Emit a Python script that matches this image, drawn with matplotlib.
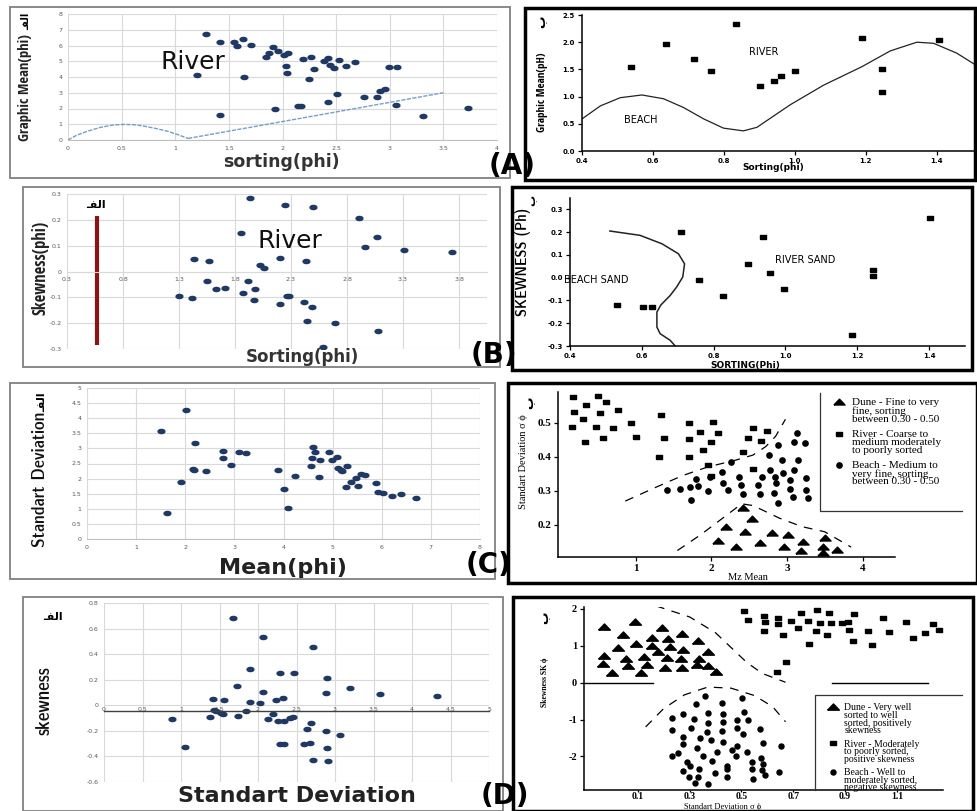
import os
import numpy as np
import matplotlib.pyplot as plt
from matplotlib import font_manager as fm
from matplotlib.lines import Line2D
from matplotlib.patches import Rectangle

W, H = 977, 811
SERIF = ['Liberation Serif', 'DejaVu Serif']
XL_BLUE = '#1f3864'
XL_GRID = '#d9d9d9'
XL_TXT = '#595959'

# Arabic letters written in visual order with presentation forms (no shaping in matplotlib)
ALEF_LAM_FEH = '\u0640\uFED4\uFEDF\uFE8D'
BEH = '\u0628'

# ---------------- (A) left : sorting vs graphic mean ----------------
a1_sort = [1.29, 1.20, 1.42, 1.42, 1.55, 1.58, 1.63, 1.64, 1.71, 1.85, 1.87, 1.91, 1.93, 1.96,
           2.01, 2.03, 2.04, 2.05, 2.14, 2.17, 2.19, 2.27, 2.29, 2.25, 2.39, 2.42, 2.44, 2.42,
           2.48, 2.51, 2.53, 2.59, 2.68, 2.76, 2.88, 2.91, 2.96, 2.99, 3.07, 3.06, 3.31, 3.73]
a1_mean = [6.71, 4.10, 6.22, 1.61, 6.22, 5.97, 6.39, 4.02, 6.05, 5.29, 5.54, 5.90, 1.95, 5.63,
           5.42, 4.72, 4.23, 5.54, 2.16, 2.16, 5.14, 5.29, 4.53, 3.89, 5.00, 5.21, 4.76, 2.43,
           4.55, 2.94, 5.08, 4.70, 4.95, 2.75, 2.75, 3.11, 3.24, 4.66, 4.66, 2.20, 1.52, 2.01]
a1_arc_x = [0, 0.08, 0.17, 0.3, 0.42, 0.52, 0.62, 0.7, 0.8, 0.92, 1.02, 1.12]
a1_arc_y = [0, 0.3, 0.53, 0.8, 0.95, 0.99, 0.97, 0.89, 0.76, 0.57, 0.35, 0.1]
a1_line_x = [1.12, 3.5]
a1_line_y = [0.1, 3.0]
a1_xticks = [0, 0.5, 1, 1.5, 2, 2.5, 3, 3.5, 4]
a1_xlabels = ['0', '0.5', '1', '1.5', '2', '2.5', '3', '3.5', '4']
a1_yticks = [0, 1, 2, 3, 4, 5, 6, 7, 8]
a1_ylabels = ['0', '1', '2', '3', '4', '5', '6', '7', '8']

# ---------------- (A) right : beach / river ----------------
a2_sort = [0.539, 0.638, 0.716, 0.764, 0.833, 0.903, 0.942, 0.962, 1.001, 1.189, 1.247, 1.247, 1.405]
a2_mean = [1.55, 1.97, 1.69, 1.47, 2.33, 1.19, 1.29, 1.37, 1.47, 2.07, 1.51, 1.09, 2.04]
a2_curve_x = [0.40, 0.452, 0.508, 0.569, 0.630, 0.686, 0.743, 0.799, 0.855, 0.893, 0.987, 1.081,
              1.189, 1.269, 1.344, 1.391, 1.456, 1.51]
a2_curve_y = [0.59, 0.83, 0.98, 1.03, 0.96, 0.80, 0.59, 0.42, 0.37, 0.435, 0.85, 1.21,
              1.55, 1.84, 2.0, 1.98, 1.80, 1.58]
a2_xticks = [0.4, 0.6, 0.8, 1.0, 1.2, 1.4]
a2_xlabels = ['0.4', '0.6', '0.8', '1.0', '1.2', '1.4']
a2_yticks = [0.0, 0.5, 1.0, 1.5, 2.0, 2.5]
a2_ylabels = ['0.0', '0.5', '1.0', '1.5', '2.0', '2.5']

# ---------------- (B) left : sorting vs skewness ----------------
b1_sort = [1.93, 2.25, 2.50, 2.91, 1.85, 3.07, 2.96, 3.31, 3.74, 1.43, 1.57, 2.20, 2.43, 2.02,
           2.06, 1.55, 1.92, 1.63, 1.71, 1.98, 1.87, 1.30, 1.42, 2.28, 2.26, 1.97, 2.20, 2.42,
           2.49, 2.44, 2.69, 3.08, 2.59]
b1_skew = [0.283, 0.256, 0.250, 0.209, 0.149, 0.135, 0.094, 0.085, 0.076, 0.047, 0.042, 0.054,
           0.041, 0.026, 0.013, -0.038, -0.038, -0.068, -0.065, -0.068, -0.082, -0.094, -0.101,
           -0.094, -0.096, -0.112, -0.124, -0.119, -0.138, -0.191, -0.199, -0.231, -0.291]
b1_bar_x = [0.57, 0.57]
b1_bar_y = [-0.285, 0.215]
b1_xticks = [0.3, 0.8, 1.3, 1.8, 2.3, 2.8, 3.3, 3.8]
b1_xlabels = ['0.3', '0.8', '1.3', '1.8', '2.3', '2.8', '3.3', '3.8']
b1_yticks = [-0.3, -0.2, -0.1, 0, 0.1, 0.2, 0.3]
b1_ylabels = ['-0.3', '-0.2', '-0.1', '0', '0.1', '0.2', '0.3']

# ---------------- (B) right : beach sand / river sand ----------------
b2_sort = [1.402, 0.709, 0.937, 0.895, 0.956, 1.244, 1.244, 0.758, 0.995, 0.827, 0.530, 0.604, 0.628, 1.185]
b2_skew = [0.262, 0.201, 0.179, 0.061, 0.020, 0.032, 0.009, -0.012, -0.048, -0.082, -0.122,
           -0.129, -0.129, -0.250]
b2_curve_x = [0.511, 0.595, 0.656, 0.702, 0.719, 0.714, 0.697, 0.679, 0.653, 0.642, 0.642, 0.651, 0.679, 0.693]
b2_curve_y = [0.205, 0.186, 0.149, 0.105, 0.061, 0.003, -0.041, -0.078, -0.12, -0.151, -0.217,
              -0.246, -0.275, -0.30]
b2_xticks = [0.4, 0.6, 0.8, 1.0, 1.2, 1.4]
b2_xlabels = ['0.4', '0.6', '0.8', '1.0', '1.2', '1.4']
b2_yticks = [-0.3, -0.2, -0.1, 0.0, 0.1, 0.2, 0.3]
b2_ylabels = ['-0.3', '-0.2', '-0.1', '0.0', '0.1', '0.2', '0.3']

# ---------------- (C) left : mean vs standard deviation ----------------
c1_mean = [1.51, 1.62, 2.01, 2.19, 1.92, 2.15, 2.17, 2.42, 2.76, 2.76, 2.94, 3.10, 3.23, 3.89,
           4.01, 4.10, 4.23, 4.55, 4.57, 4.60, 4.64, 4.72, 4.75, 4.93, 4.99, 5.08, 5.11, 5.18,
           5.20, 5.29, 5.27, 5.38, 5.48, 5.52, 5.57, 5.66, 5.89, 5.93, 6.03, 6.21, 6.40, 6.69]
c1_std = [3.57, 0.86, 4.28, 3.18, 1.89, 2.32, 2.27, 2.24, 2.90, 2.69, 2.46, 2.88, 2.86, 2.28,
          1.66, 1.04, 2.08, 2.43, 2.67, 3.05, 2.88, 2.04, 2.63, 2.87, 2.60, 2.70, 2.34, 2.30,
          2.25, 2.41, 1.72, 1.89, 2.01, 1.74, 2.16, 2.12, 1.84, 1.55, 1.52, 1.41, 1.50, 1.37]
c1_xticks = [0, 1, 2, 3, 4, 5, 6, 7, 8]
c1_xlabels = ['0', '1', '2', '3', '4', '5', '6', '7', '8']
c1_yticks = [0, 0.5, 1, 1.5, 2, 2.5, 3, 3.5, 4, 4.5, 5]
c1_ylabels = ['0', '0.5', '1', '1.5', '2', '2.5', '3', '3.5', '4', '4.5', '5']

# ---------------- (C) right : dune / river / beach ----------------
c2_river_x = [0.175, 0.153, 0.188, 0.343, 0.307, 0.330, 0.497, 0.528, 0.475, 0.603, 0.572, 0.696,
              0.762, 0.938, 1.004, 1.335, 1.379, 1.304, 1.706, 1.706, 1.706, 1.851, 1.895, 1.953,
              2.015, 1.997, 2.094, 1.997, 2.416, 2.491, 2.557, 2.659, 2.734, 2.557]
c2_river_y = [0.576, 0.486, 0.532, 0.552, 0.511, 0.442, 0.578, 0.527, 0.488, 0.562, 0.455, 0.485,
              0.537, 0.498, 0.457, 0.522, 0.454, 0.398, 0.498, 0.451, 0.398, 0.474, 0.420, 0.376,
              0.503, 0.443, 0.471, 0.344, 0.415, 0.454, 0.485, 0.447, 0.477, 0.363]
c2_beach_x = [3.131, 3.087, 3.241, 2.888, 2.756, 2.932, 3.140, 2.262, 2.138, 2.778, 2.954, 3.087,
              1.798, 1.984, 2.372, 2.668, 2.836, 3.042, 3.254, 1.829, 2.160, 2.394, 2.615, 2.857,
              1.410, 1.587, 1.711, 1.949, 2.226, 3.042, 3.254, 2.416, 2.637, 2.831, 1.733, 2.888,
              3.078, 3.285]
c2_beach_y = [0.469, 0.444, 0.439, 0.436, 0.405, 0.391, 0.391, 0.386, 0.356, 0.361, 0.351, 0.361,
              0.334, 0.342, 0.342, 0.340, 0.340, 0.332, 0.339, 0.314, 0.322, 0.317, 0.317, 0.322,
              0.303, 0.305, 0.310, 0.301, 0.303, 0.306, 0.303, 0.291, 0.290, 0.293, 0.273, 0.265,
              0.281, 0.278]
c2_dune_x = [2.412, 2.535, 2.191, 2.447, 2.800, 3.020, 3.219, 3.497, 2.094, 2.328, 2.637, 2.955,
             3.184, 3.483, 3.660, 3.483]
c2_dune_y = [0.249, 0.217, 0.195, 0.178, 0.175, 0.171, 0.151, 0.163, 0.153, 0.136, 0.146, 0.136,
             0.124, 0.136, 0.127, 0.117]
c2_upper_x = [0.86, 1.26, 1.62, 1.95, 2.32, 2.55, 2.72, 2.85, 2.98]
c2_upper_y = [0.27, 0.31, 0.345, 0.37, 0.39, 0.405, 0.43, 0.46, 0.51]
c2_lower_x = [1.55, 1.85, 2.15, 2.4, 2.55, 2.9, 3.2, 3.5, 3.85]
c2_lower_y = [0.125, 0.17, 0.22, 0.262, 0.257, 0.22, 0.195, 0.18, 0.135]
c2_xticks = [1, 2, 3, 4]
c2_xlabels = ['1', '2', '3', '4']
c2_yticks = [0.2, 0.3, 0.4, 0.5]
c2_ylabels = ['0.2', '0.3', '0.4', '0.5']
c2_labels = ['Dune - Fine to very\nfine, sorting\nbetween 0.30 - 0.50',
             'River - Coarse to\nmedium moderately\nto poorly sorted',
             'Beach - Medium to\nvery fine, sorting\nbetween 0.30 - 0.50']

# ---------------- (D) left : standard deviation vs skewness ----------------
d1_std = [1.67, 2.07, 2.71, 1.90, 2.29, 2.47, 2.90, 1.73, 3.19, 2.06, 2.88, 3.58, 4.32, 1.42,
          1.56, 2.33, 2.24, 1.89, 2.03, 1.43, 1.46, 1.84, 1.52, 1.54, 2.19, 1.38, 1.74, 0.88,
          2.13, 2.26, 2.34, 2.42, 2.45, 2.69, 2.64, 2.88, 3.06, 2.60, 2.67, 2.28, 2.34, 2.90,
          1.05, 2.72, 2.91]
d1_skew = [0.681, 0.535, 0.456, 0.282, 0.256, 0.250, 0.211, 0.154, 0.136, 0.107, 0.094, 0.089,
           0.076, 0.050, 0.044, 0.055, 0.042, 0.029, 0.016, -0.039, -0.044, -0.042, -0.063,
           -0.068, -0.068, -0.094, -0.083, -0.104, -0.110, -0.120, -0.125, -0.096, -0.094,
           -0.136, -0.188, -0.198, -0.229, -0.305, -0.297, -0.305, -0.305, -0.336, -0.326,
           -0.428, -0.438]
d1_axis_y = -0.045
d1_xticks = [0, 0.5, 1, 1.5, 2, 2.5, 3, 3.5, 4, 4.5, 5]
d1_xlabels = ['0', '0.5', '1', '1.5', '2', '2.5', '3', '3.5', '4', '4.5', '5']
d1_yticks = [-0.6, -0.4, -0.2, 0, 0.2, 0.4, 0.6, 0.8]
d1_ylabels = ['-0.6', '-0.4', '-0.2', '0', '0.2', '0.4', '0.6', '0.8']

# ---------------- (D) right : dune / river / beach ----------------
d2_dune_x = [-0.030, 0.089, 0.192, 0.272, 0.044, 0.331, 0.153, 0.215, 0.091, 0.153, 0.224, 0.022,
             0.273, 0.372, 0.179, -0.030, 0.054, 0.124, 0.211, 0.266, 0.337, -0.033, 0.063, 0.136,
             0.205, 0.269, 0.327, 0.372, -0.001, 0.112, 0.400]
d2_dune_y = [1.52, 1.65, 1.47, 1.31, 1.29, 1.14, 1.20, 1.17, 1.04, 0.99, 0.97, 0.93, 0.88, 0.84,
             0.84, 0.73, 0.64, 0.70, 0.68, 0.63, 0.64, 0.50, 0.45, 0.48, 0.41, 0.41, 0.48, 0.45,
             0.27, 0.25, 0.28]
d2_river_x = [0.510, 0.526, 0.587, 0.591, 0.587, 0.642, 0.642, 0.661, 0.691, 0.728, 0.719, 0.755,
              0.762, 0.790, 0.788, 0.803, 0.829, 0.839, 0.844, 0.887, 0.912, 0.916, 0.934, 0.929,
              0.990, 1.003, 1.048, 1.071, 1.134, 1.163, 1.208, 1.241, 1.264, 1.302, 0.672, 0.636]
d2_river_y = [1.94, 1.71, 1.81, 1.63, 1.41, 1.76, 1.59, 1.29, 1.68, 1.90, 1.49, 1.67, 1.04, 1.97,
              1.40, 1.61, 1.29, 1.88, 1.61, 1.61, 1.63, 1.43, 1.85, 1.13, 1.41, 1.02, 1.76, 1.36,
              1.63, 1.22, 1.34, 1.58, 1.43, 1.58, 0.57, 0.30]
d2_beach_x = [0.359, 0.501, 0.324, 0.423, 0.511, 0.273, 0.372, 0.430, 0.230, 0.317, 0.481, 0.526,
              0.372, 0.430, 0.230, 0.305, 0.481, 0.571, 0.368, 0.426, 0.505, 0.273, 0.340, 0.382,
              0.430, 0.584, 0.273, 0.327, 0.481, 0.653, 0.407, 0.256, 0.462, 0.520, 0.353, 0.230,
              0.479, 0.291, 0.385, 0.574, 0.539, 0.582, 0.443, 0.301, 0.337, 0.445, 0.539, 0.578,
              0.646, 0.273, 0.333, 0.299, 0.398, 0.445, 0.590, 0.545, 0.372, 0.321]
d2_beach_y = [-0.36, -0.42, -0.59, -0.54, -0.79, -0.84, -0.83, -0.86, -0.97, -0.98, -1.01, -1.01,
              -1.10, -1.08, -1.28, -1.24, -1.22, -1.26, -1.33, -1.30, -1.39, -1.46, -1.51, -1.55,
              -1.60, -1.64, -1.67, -1.76, -1.73, -1.71, -1.87, -1.91, -1.82, -1.87, -1.98, -2.00,
              -2.00, -2.14, -2.12, -2.05, -2.14, -2.20, -2.26, -2.26, -2.35, -2.35, -2.34, -2.36,
              -2.41, -2.39, -2.56, -2.57, -2.45, -2.55, -2.50, -2.62, -2.74, -2.73]
d2_upper_x = [0.17, 0.30, 0.40, 0.46, 0.52, 0.58, 0.67]
d2_upper_y = [2.08, 1.78, 1.35, 0.95, 0.55, 0.25, 0.01]
d2_lower_x = [0.13, 0.20, 0.28, 0.37, 0.46, 0.55, 0.62, 0.67]
d2_lower_y = [-1.2, -0.7, -0.33, -0.12, -0.15, -0.35, -0.65, -1.06]
d2_zero_left = [-0.11, 0.16]
d2_zero_right = [0.85, 1.22]
d2_xticks = [0.1, 0.3, 0.5, 0.7, 0.9, 1.1]
d2_xlabels = ['0.1', '0.3', '0.5', '0.7', '0.9', '1.1']
d2_yticks = [-2, -1, 0, 1, 2]
d2_ylabels = ['-2', '-1', '0', '1', '2']
d2_labels = ['Dune - Very well\nsorted to well\nsorted, positively\nskewness',
             'River - Moderately\nto poorly sorted,\npositive skewness',
             'Beach - Well to\nmoderately sorted,\nnegative skewness']

t = np.linspace(0, 2 * np.pi, 17)
ellipse = list(zip(np.cos(t), 0.6 * np.sin(t)))
rect = [(-1, -0.65), (1, -0.65), (1, 0.65), (-1, 0.65), (-1, -0.65)]
tri = [(-1, -0.45), (1, -0.45), (0, 0.6), (-1, -0.45)]


def narrow_font(bold):
    # look for any condensed / narrow face that is installed
    found = []
    for f in fm.fontManager.ttflist:
        fn = os.path.basename(f.fname).lower()
        if 'narrow' in fn or 'condensed' in fn or f.stretch in ('condensed', 'semi-condensed'):
            if 'extra' in fn or 'italic' in fn or 'oblique' in fn:
                continue
            isbold = 'bold' in fn or f.weight in ('bold', 700)
            found.append((isbold == bold, 'sans' in fn and 'serif' not in fn, f.fname))
    if found:
        found.sort(reverse=True)
        return fm.FontProperties(fname=found[0][2]), 1.0
    return fm.FontProperties(family='DejaVu Sans', stretch='condensed',
                             weight='bold' if bold else 'normal'), 0.82


NB, NB_K = narrow_font(True)
NR, NR_K = narrow_font(False)

fig = plt.figure(figsize=(W / 100, H / 100), dpi=100)


def px_axes(x0, y0, x1, y1):
    return fig.add_axes([x0 / W, 1 - y1 / H, (x1 - x0) / W, (y1 - y0) / H])


def ftext(x, y, s, **kw):
    kw.setdefault('ha', 'center')
    kw.setdefault('va', 'center')
    return fig.text(x / W, 1 - y / H, s, **kw)


def frame(x0, y0, x1, y1, color, lw):
    fig.add_artist(Rectangle((x0 / W, 1 - y1 / H), (x1 - x0) / W, (y1 - y0) / H,
                             transform=fig.transFigure, fill=False, ec=color, lw=lw, zorder=4))


def fline(xs, ys, **kw):
    fig.add_artist(Line2D([x / W for x in xs], [1 - y / H for y in ys],
                          transform=fig.transFigure, **kw))


def excel_axes(box, xlim, ylim, xt, xl, yt, yl):
    ax = px_axes(*box)
    ax.set_xlim(*xlim)
    ax.set_ylim(*ylim)
    ax.set_xticks(xt, xl)
    ax.set_yticks(yt, yl)
    ax.grid(True, color=XL_GRID, lw=0.8)
    ax.set_axisbelow(True)
    for s in ['top', 'right', 'left']:
        ax.spines[s].set_visible(False)
    ax.spines['bottom'].set_color('#bfbfbf')
    ax.tick_params(length=0, labelsize=4.5, colors=XL_TXT, pad=4)
    ax.patch.set_alpha(0)
    return ax


def classic_axes(box, xlim, ylim, xt, xl, yt, yl, size, family, weight):
    ax = px_axes(*box)
    ax.set_xlim(*xlim)
    ax.set_ylim(*ylim)
    ax.set_xticks(xt, xl)
    ax.set_yticks(yt, yl)
    for s in ['top', 'right']:
        ax.spines[s].set_visible(False)
    for s in ['left', 'bottom']:
        ax.spines[s].set_linewidth(1.1)
    ax.tick_params(direction='out', length=3, width=0.9, pad=2, labelsize=size)
    for lab in ax.get_xticklabels() + ax.get_yticklabels():
        lab.set_family(family)
        lab.set_weight(weight)
    ax.patch.set_alpha(0)
    return ax


def legend_top(ax, handles, labels, anchor, size, spacing, linesp):
    leg = ax.legend(handles, labels, loc='upper left', bbox_to_anchor=anchor, frameon=False,
                    borderpad=0, handlelength=1.0, handletextpad=0.7, labelspacing=spacing,
                    prop={'family': SERIF, 'size': size})
    for txt in leg.get_texts():
        txt.set_linespacing(linesp)
    # put each marker beside the first line of its label
    for col in leg._legend_handle_box.get_children():
        for item in col.get_children():
            item.align = 'top'
    return leg


# ===== A left =====
ax = excel_axes((68, 14, 497, 140), (0, 4), (0, 8), a1_xticks, a1_xlabels, a1_yticks, a1_ylabels)
ax.plot(a1_arc_x, a1_arc_y, color='#7b9cc4', lw=1, ls=(0, (3, 1)))
ax.plot(a1_line_x, a1_line_y, color='#7b9cc4', lw=1, ls=(0, (3, 1)))
ax.plot(a1_sort, a1_mean, ls='none', marker=ellipse, ms=5, color=XL_BLUE)
ax.text(0.86, 4.95, 'River', fontsize=18, va='center', color='#111111')
ftext(281, 162, 'sorting(phi)', fontsize=12.5, weight='bold', color='#333333')
ftext(25, 88, 'Graphic Mean(phi)', fontproperties=NB, fontsize=10.5 * NB_K, rotation=90, color='#222222')
ftext(26, 21, ALEF_LAM_FEH, fontsize=7, weight='bold', rotation=90)

# ===== A right =====
ax = classic_axes((582, 15, 974, 151), (0.4, 1.505), (0, 2.5), a2_xticks, a2_xlabels,
                  a2_yticks, a2_ylabels, 5, 'DejaVu Sans', 'bold')
ax.plot(a2_curve_x, a2_curve_y, color='#222222', lw=0.9)
ax.plot(a2_sort, a2_mean, ls='none', marker=rect, ms=4.5, color='black')
ax.text(0.87, 1.82, 'RIVER', fontsize=7, va='center')
ax.text(0.517, 0.57, 'BEACH', fontsize=7, va='center')
ftext(773, 167, 'Sorting(phi)', fontsize=6.5, weight='bold')
ftext(542, 92, 'Graphic Mean(pH)', fontproperties=NB, fontsize=8 * NB_K, rotation=90)
ftext(542, 22, BEH, fontsize=9, weight='bold', rotation=90)

# ===== B left =====
ax = excel_axes((67, 194, 487, 349), (0.3, 4.05), (-0.3, 0.3), b1_xticks, b1_xlabels, b1_yticks, b1_ylabels)
ax.spines['bottom'].set_position(('data', 0))
ax.spines['bottom'].set_color(XL_GRID)
ax.plot(b1_bar_x, b1_bar_y, color='#8b1414', lw=3, solid_capstyle='butt')
ax.plot(b1_sort, b1_skew, ls='none', marker=ellipse, ms=5, color=XL_BLUE)
ax.text(2.0, 0.12, 'River', fontsize=18, va='center', color='#111111')
ftext(302, 357, 'Sorting(phi)', fontsize=12, weight='bold', color='#333333')
ftext(40, 268, 'Skewness(phi)', fontproperties=NB, fontsize=12 * NB_K, rotation=90, color='#222222')
ftext(96, 205, ALEF_LAM_FEH, fontsize=8, weight='bold')

# ===== B right =====
ax = classic_axes((570, 198, 965, 346), (0.4, 1.5), (-0.3, 0.35), b2_xticks, b2_xlabels,
                  b2_yticks, b2_ylabels, 5, 'DejaVu Sans', 'bold')
ax.plot(b2_curve_x, b2_curve_y, color='#222222', lw=1.1)
ax.plot(b2_sort, b2_skew, ls='none', marker=rect, ms=4.5, color='black')
ax.text(0.97, 0.079, 'RIVER SAND', fontsize=7, va='center')
ax.text(0.383, -0.012, 'BEACH SAND', fontsize=7, va='center')
ftext(745, 365, 'SORTING(Phi)', fontsize=6.5, weight='bold')
ftext(523, 262, 'SKEWNESS (Ph)', fontproperties=NR, fontsize=11 * NR_K, rotation=90)
ftext(532, 200, BEH, fontsize=8, weight='bold', rotation=90)

# ===== C left =====
ax = excel_axes((87, 388, 480, 539), (0, 8), (0, 5), c1_xticks, c1_xlabels, c1_yticks, c1_ylabels)
ax.plot(c1_mean, c1_std, ls='none', marker=ellipse, ms=5, color=XL_BLUE)
ftext(283, 568, 'Mean(phi)', fontsize=16, weight='bold', color='#222222')
ftext(40, 479, 'Standart Deviation', fontproperties=NR, fontsize=13 * NR_K, rotation=90, color='#111111')
ftext(42, 402, ALEF_LAM_FEH, fontsize=8, weight='bold', rotation=90)

# ===== C right =====
ax = classic_axes((558, 392, 895, 557), (-0.03, 4.43), (0.106, 0.59), c2_xticks, c2_xlabels,
                  c2_yticks, c2_ylabels, 8, SERIF, 'bold')
ax.plot(c2_upper_x, c2_upper_y, color='black', lw=0.9, ls=(0, (7, 6)))
ax.plot(c2_lower_x, c2_lower_y, color='black', lw=0.9, ls=(0, (7, 6)))
h_dune, = ax.plot(c2_dune_x, c2_dune_y, ls='none', marker=tri, ms=8, color='black')
h_river, = ax.plot(c2_river_x, c2_river_y, ls='none', marker=rect, ms=4.8, color='black')
h_beach, = ax.plot(c2_beach_x, c2_beach_y, ls='none', marker='o', ms=3.8, color='black')
legend_top(ax, [h_dune, h_river, h_beach], c2_labels, (0.8, 0.995), 8, 0.55, 0.85)
fline([820, 820, 962], [393, 511, 511], color='#333333', lw=0.9)
ftext(748, 578, 'Mz Mean', fontsize=7.5, family=SERIF)
ftext(523, 462, 'Standart Deviation \u03c3 \u03d5', fontsize=7.5, rotation=90, family=SERIF)
ftext(530, 403, BEH, fontsize=9, weight='bold', rotation=90)

# ===== D left =====
ax = excel_axes((104, 603, 489, 782), (0, 5), (-0.6, 0.8), d1_xticks, d1_xlabels, d1_yticks, d1_ylabels)
ax.spines['bottom'].set_position(('data', d1_axis_y))
ax.spines['bottom'].set_color('#404040')
ax.spines['bottom'].set_linewidth(1.0)
ax.tick_params(axis='x', pad=-3)
ax.plot(d1_std, d1_skew, ls='none', marker=ellipse, ms=5, color=XL_BLUE)
ftext(297, 796, 'Standart Deviation', fontsize=16, weight='bold', color='#222222')
ftext(44, 701, 'skewness', fontproperties=NR, fontsize=14 * NR_K, rotation=90, color='#111111')
ftext(53, 617, ALEF_LAM_FEH, fontsize=8, weight='bold')

# ===== D right =====
ax = classic_axes((584, 607, 943, 790), (-0.108, 1.278), (-2.91, 2.05), d2_xticks, d2_xlabels,
                  d2_yticks, d2_ylabels, 7.5, SERIF, 'bold')
ax.tick_params(axis='x', length=1.5, pad=0, labelsize=7)
ax.plot(d2_zero_left, [0, 0], color='black', lw=1)
ax.plot(d2_zero_right, [0, 0], color='black', lw=1)
ax.plot(d2_upper_x, d2_upper_y, color='black', lw=0.9, ls=(0, (7, 6)))
ax.plot(d2_lower_x, d2_lower_y, color='black', lw=0.9, ls=(0, (7, 6)))
h_dune, = ax.plot(d2_dune_x, d2_dune_y, ls='none', marker=tri, ms=8.5, color='black')
h_river, = ax.plot(d2_river_x, d2_river_y, ls='none', marker=rect, ms=4.5, color='black')
h_beach, = ax.plot(d2_beach_x, d2_beach_y, ls='none', marker='o', ms=3.6, color='black')
legend_top(ax, [h_dune, h_river, h_beach], d2_labels, (0.666, 0.5), 7, 0.45, 0.8)
fline([962, 815, 815], [695, 695, 790], color='#333333', lw=0.9)
ftext(723, 811, 'Standart Deviation \u03c3 \u03d5', fontsize=6, family=SERIF, va='bottom')
ftext(545, 682, 'Skewness SK \u03d5', fontsize=5.5, weight='bold', rotation=90, family=SERIF)
ftext(545, 618, BEH, fontsize=9, weight='bold', rotation=90)

# ===== panel frames and letters =====
frame(10, 7, 510, 178, '#808080', 1.3)
frame(525, 8, 975, 180, 'black', 2.5)
frame(23, 187, 500, 367, '#808080', 1.3)
frame(512, 187, 972, 370, 'black', 2.5)
frame(10, 383, 495, 579, '#808080', 1.3)
frame(508, 383, 977, 583, 'black', 2.5)
frame(23, 597, 503, 811, '#808080', 1.3)
frame(513, 597, 973, 811, 'black', 2.5)

for lab, x, y in [('(A)', 512, 166), ('(B)', 494, 355), ('(C)', 489, 565), ('(D)', 505, 796)]:
    ftext(x, y, lab, fontsize=20, weight='bold', zorder=6)

fig.savefig('out.png', dpi=100)
